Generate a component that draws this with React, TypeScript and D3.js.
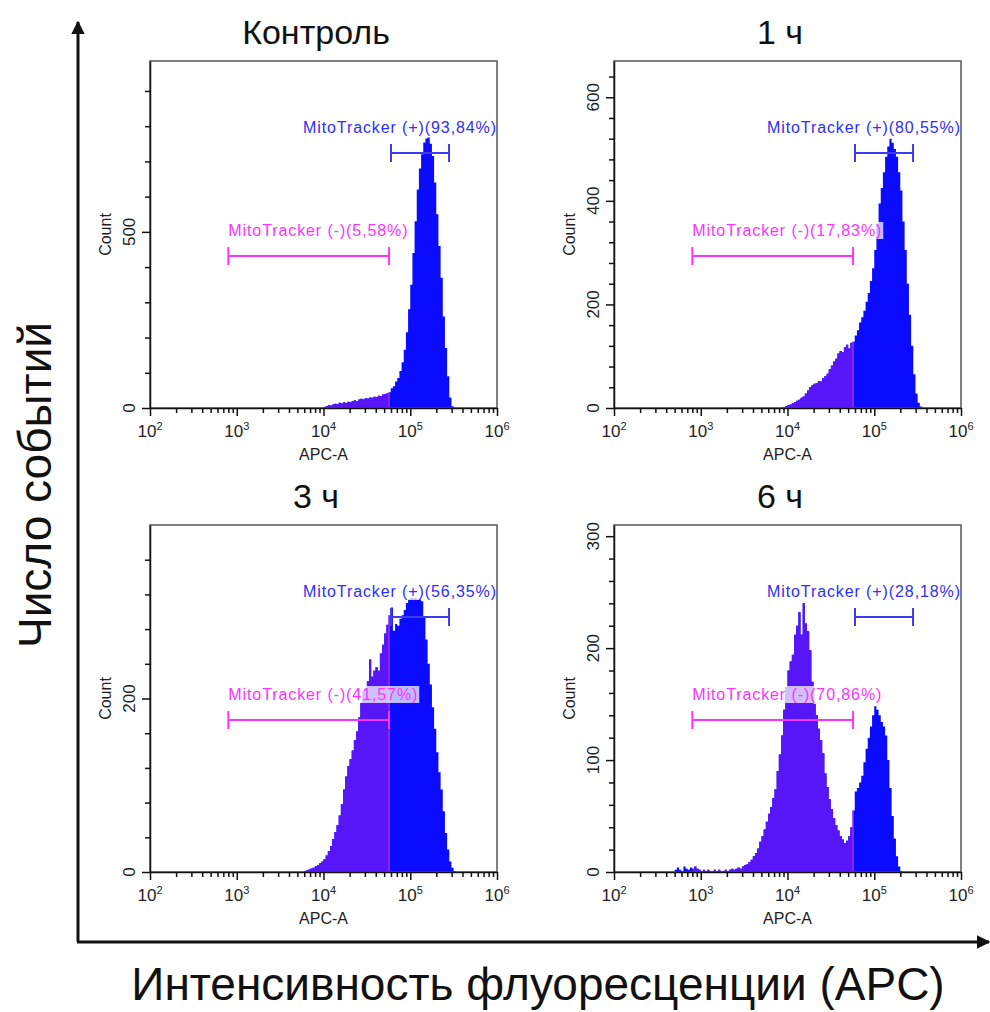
import { useEffect, useRef } from 'react';
import * as d3 from 'd3';

// histogram channels are 0.025 decade wide, each series starts at its own channel
const binWidth = 0.025;

const panelTitles = ['Контроль', '1 ч', '3 ч', '6 ч'];
const posLabels = ['MitoTracker (+)(93,84%)', 'MitoTracker (+)(80,55%)', 'MitoTracker (+)(56,35%)', 'MitoTracker (+)(28,18%)'];
const negLabels = ['MitoTracker (-)(5,58%)', 'MitoTracker (-)(17,83%)', 'MitoTracker (-)(41,57%)', 'MitoTracker (-)(70,86%)'];
const yMaxCounts = [985, 670, 400, 310];
const yLabelValues = [[0, 500], [0, 200, 400, 600], [0, 200], [0, 100, 200, 300]];
const yMinorSteps = [100, 40, 40, 20];
const binStarts = [4.0, 3.95, 3.775, 2.7];
const negGate = [800, 57000];
const posGate = [60000, 280000];
const xMajorTicks = [1e2, 1e3, 1e4, 1e5, 1e6];

const countsControl = [3, 6, 8, 7, 10, 12, 11, 15, 13, 16, 14, 18, 17, 20, 22, 19, 24, 26, 24, 28,
  27, 30, 29, 32, 31, 35, 34, 38, 40, 42, 45, 56, 62, 75, 85, 105, 130, 165, 215, 280,
  350, 440, 530, 620, 680, 720, 754, 765, 768, 750, 715, 640, 550, 460, 370, 260, 170, 90, 30, 5];

const counts1h = [2, 4, 6, 7, 9, 11, 14, 16, 20, 22, 28, 34, 40, 44, 47, 48, 52, 51, 58, 62,
  66, 75, 82, 90, 95, 105, 110, 108, 118, 122, 115, 126, 128, 140, 150, 165, 175, 188, 205, 222,
  245, 270, 305, 355, 395, 425, 455, 485, 505, 520, 512, 500, 485, 455, 420, 360, 305, 240, 180, 120,
  65, 28, 10, 3];

const counts3h = [1, 2, 3, 4, 5, 7, 8, 10, 12, 15, 19, 24, 30, 38, 46, 54, 65, 78, 95, 110,
  122, 130, 140, 152, 162, 178, 195, 208, 212, 220, 245, 225, 232, 236, 232, 252, 262, 275, 285, 296,
  305, 278, 286, 284, 292, 296, 302, 310, 314, 316, 315, 316, 314, 315, 312, 295, 268, 240, 216, 190,
  165, 138, 115, 95, 70, 45, 26, 12, 5, 1];

const counts6h = [2, 4, 2, 1, 5, 3, 2, 4, 3, 5, 3, 2, 1, 2, 1, 2, 1, 1, 2, 1,
  2, 1, 1, 2, 1, 2, 3, 2, 3, 4, 3, 5, 6, 7, 9, 11, 14, 17, 21, 27,
  32, 38, 45, 52, 58, 66, 74, 90, 105, 122, 145, 165, 180, 188, 194, 212, 220, 232, 212, 240,
  222, 215, 198, 170, 150, 140, 128, 118, 106, 88, 76, 65, 56, 48, 42, 37, 32, 29, 26, 28,
  32, 40, 55, 72, 75, 80, 86, 98, 110, 120, 130, 140, 148, 145, 140, 134, 130, 122, 100, 75,
  50, 30, 14, 5, 1];

const allCounts = [countsControl, counts1h, counts3h, counts6h];

const panelLefts = [150, 614, 150, 614];
const panelTops = [61, 61, 525, 525];
const W = 347, H = 347;
const FONT = '"Liberation Sans", Arial, sans-serif';

function drawPanel(root: any, i: number) {
  const g = root.append('g').attr('transform', `translate(${panelLefts[i]},${panelTops[i]})`);
  const x = d3.scaleLog().domain([1e2, 1e6]).range([0, W]);
  const y = d3.scaleLinear().domain([0, yMaxCounts[i]]).range([H, 0]);
  const counts = allCounts[i];
  const start = binStarts[i];

  const pts: [number, number][] = counts.map((c, k) => [start + k * binWidth, c]);
  pts.push([start + counts.length * binWidth, 0]);

  const area = d3.area<[number, number]>()
    .x(d => x(Math.pow(10, d[0])))
    .y0(H)
    .y1(d => y(d[1]))
    .curve(d3.curveStepAfter);

  g.append('path').attr('d', area(pts)).attr('fill', '#0b0bff');

  const clipId = 'negclip' + i;
  g.append('clipPath').attr('id', clipId)
    .append('rect')
    .attr('x', x(negGate[0])).attr('y', 0)
    .attr('width', x(negGate[1]) - x(negGate[0])).attr('height', H);
  g.append('path').attr('d', area(pts)).attr('fill', '#5716f8').attr('clip-path', `url(#${clipId})`);

  // boundary line of the negative gate
  const bIdx = Math.floor((Math.log10(negGate[1]) - start) / binWidth);
  const bCount = counts[bIdx] || 0;
  g.append('line')
    .attr('x1', x(negGate[1])).attr('x2', x(negGate[1]))
    .attr('y1', H).attr('y2', y(bCount))
    .attr('stroke', '#ff44ff').attr('stroke-width', 1).attr('opacity', 0.8);

  // gates
  const gates = [
    { range: posGate, yy: 92, color: '#3c3cee', label: posLabels[i], lx: 153, ly: 72, tc: '#2f2ff4' },
    { range: negGate, yy: 195, color: '#ff33ff', label: negLabels[i], lx: x(negGate[0]), ly: 175, tc: '#ff33ff' },
  ];
  gates.forEach(gt => {
    const x1 = x(gt.range[0]), x2 = x(gt.range[1]);
    g.append('line').attr('x1', x1).attr('x2', x2).attr('y1', gt.yy).attr('y2', gt.yy)
      .attr('stroke', gt.color).attr('stroke-width', 2);
    [x1, x2].forEach(xx => {
      g.append('line').attr('x1', xx).attr('x2', xx).attr('y1', gt.yy - 9).attr('y2', gt.yy + 9)
        .attr('stroke', gt.color).attr('stroke-width', 2);
    });
    const bg = g.append('rect');
    const t = g.append('text')
      .attr('x', gt.lx).attr('y', gt.ly)
      .attr('font-family', FONT)
      .attr('font-size', 16)
      .attr('letter-spacing', 0.9)
      .attr('fill', gt.tc)
      .text(gt.label);
    const bb = (t.node() as SVGTextElement).getBBox();
    bg.attr('x', bb.x - 1).attr('y', bb.y).attr('width', bb.width + 2).attr('height', bb.height)
      .attr('fill', '#ffffff').attr('opacity', 0.72);
  });

  // frame
  g.append('rect').attr('x', 0).attr('y', 0).attr('width', W).attr('height', H)
    .attr('fill', 'none').attr('stroke', '#555').attr('stroke-width', 1.5);

  // x axis
  const xMinor: number[] = [];
  for (let k = 2; k < 6; k++) for (let m = 2; m < 10; m++) xMinor.push(m * Math.pow(10, k));
  const xa = g.append('g').attr('transform', `translate(0,${H})`)
    .call(d3.axisBottom(x).tickValues(xMajorTicks).tickSize(8).tickSizeOuter(0).tickFormat(() => ''));
  g.append('g').attr('transform', `translate(0,${H})`)
    .call(d3.axisBottom(x).tickValues(xMinor).tickSize(5).tickSizeOuter(0).tickFormat(() => ''))
    .select('.domain').remove();
  xa.selectAll('path,line').attr('stroke', '#111').attr('stroke-width', 1.5);

  xMajorTicks.forEach(v => {
    const t = g.append('text').attr('x', x(v)).attr('y', H + 29)
      .attr('text-anchor', 'middle')
      .attr('font-family', FONT)
      .attr('font-size', 17).attr('fill', '#222');
    t.append('tspan').text('10');
    t.append('tspan').attr('dy', -7).attr('font-size', 11).text(String(Math.round(Math.log10(v))));
  });
  g.append('text').attr('x', W / 2).attr('y', H + 52).attr('text-anchor', 'middle')
    .attr('font-family', FONT)
    .attr('font-size', 16).attr('fill', '#222').text('APC-A');

  // y axis
  const labels = yLabelValues[i];
  const yMinor = d3.range(0, yMaxCounts[i] - 3, yMinorSteps[i]).filter(v => !labels.includes(v));
  const ya = g.append('g')
    .call(d3.axisLeft(y).tickValues(labels).tickSize(8).tickSizeOuter(0).tickFormat(() => ''));
  g.append('g')
    .call(d3.axisLeft(y).tickValues(yMinor).tickSize(5).tickSizeOuter(0).tickFormat(() => ''))
    .select('.domain').remove();
  ya.selectAll('path,line').attr('stroke', '#111').attr('stroke-width', 1.5);
  g.selectAll('.tick line').attr('stroke', '#111').attr('stroke-width', 1.5);

  labels.forEach(v => {
    g.append('text')
      .attr('transform', `translate(-15,${y(v)}) rotate(-90)`)
      .attr('text-anchor', 'middle')
      .attr('font-family', FONT)
      .attr('font-size', 17).attr('fill', '#222')
      .text(String(v));
  });
  g.append('text')
    .attr('transform', `translate(-39,${H / 2}) rotate(-90)`)
    .attr('text-anchor', 'middle')
    .attr('font-family', FONT)
    .attr('font-size', 16).attr('fill', '#222')
    .text('Count');

  // panel title
  g.append('text').attr('x', 166).attr('y', -17).attr('text-anchor', 'middle')
    .attr('font-family', FONT)
    .attr('font-size', 34).attr('fill', '#111')
    .text(panelTitles[i]);
}

export default function App() {
  const ref = useRef<SVGSVGElement>(null);

  useEffect(() => {
    const svg = d3.select(ref.current);
    svg.selectAll('*').remove();

    const defs = svg.append('defs');
    defs.append('marker').attr('id', 'arrowhead')
      .attr('viewBox', '0 0 10 10').attr('refX', 9).attr('refY', 5)
      .attr('markerWidth', 4.5).attr('markerHeight', 4.5).attr('orient', 'auto')
      .append('path').attr('d', 'M0,0 L10,5 L0,10 Z').attr('fill', '#111');

    // outer axes with arrows
    svg.append('line').attr('x1', 78).attr('y1', 942).attr('x2', 78).attr('y2', 22)
      .attr('stroke', '#111').attr('stroke-width', 3).attr('marker-end', 'url(#arrowhead)');
    svg.append('line').attr('x1', 77).attr('y1', 942).attr('x2', 989).attr('y2', 942)
      .attr('stroke', '#111').attr('stroke-width', 3).attr('marker-end', 'url(#arrowhead)');

    for (let i = 0; i < 4; i++) drawPanel(svg, i);

    svg.append('text')
      .attr('transform', 'translate(51,485) rotate(-90)')
      .attr('text-anchor', 'middle')
      .attr('font-family', FONT)
      .attr('font-size', 46).attr('fill', '#111')
      .text('Число событий');
    svg.append('text')
      .attr('x', 538).attr('y', 1000)
      .attr('text-anchor', 'middle')
      .attr('font-family', FONT)
      .attr('font-size', 46).attr('fill', '#111')
      .text('Интенсивность флуоресценции (APC)');
  }, []);

  return (
    <svg ref={ref} width={990} height={1012}
      style={{ position: 'absolute', left: 0, top: 0, background: '#fff' }} />
  );
}
